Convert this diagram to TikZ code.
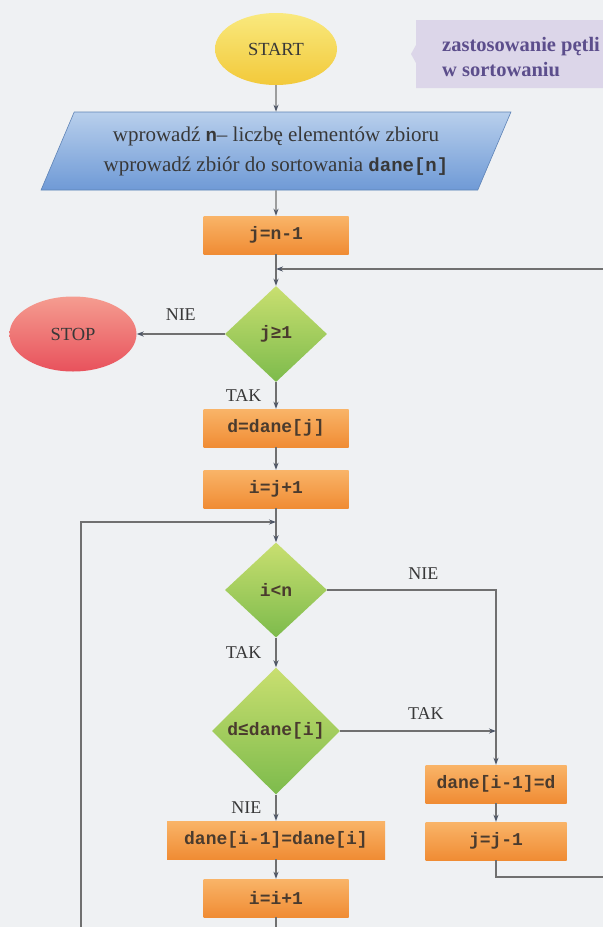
\documentclass[tikz,border=0pt]{standalone}
\usepackage{fontspec}
\setmainfont{Liberation Serif}
\setmonofont{Liberation Mono}
\usepackage{xcolor}
\usetikzlibrary{shapes.geometric,arrows.meta}
\definecolor{bgc}{HTML}{EFF1F3}
\definecolor{lnc}{HTML}{707070}
\definecolor{tipc}{HTML}{4E5666}
\definecolor{txt}{HTML}{383838}
\definecolor{optxt}{HTML}{4A3B2E}
\definecolor{notefill}{HTML}{DCD6E9}
\definecolor{notetxt}{HTML}{5C4E8C}
\definecolor{yeTop}{HTML}{F9E97E}
\definecolor{yeBot}{HTML}{F2C93A}
\definecolor{reTop}{HTML}{F59C90}
\definecolor{reBot}{HTML}{E8525C}
\definecolor{orTop}{HTML}{F9B468}
\definecolor{orBot}{HTML}{F08C34}
\definecolor{grTop}{HTML}{C9DF70}
\definecolor{grBot}{HTML}{7DBB4C}
\definecolor{blTop}{HTML}{B8CFEC}
\definecolor{blBot}{HTML}{6F9AD6}
\newcommand{\kod}[1]{{\fontsize{19bp}{30bp}\ttfamily\bfseries #1}}

\begin{document}
\begin{tikzpicture}[x=1bp, y=-1bp, >={Stealth[length=7bp, width=5bp, color=tipc]},
  flow/.style={draw=lnc, line width=1.2bp},
  lbl/.style={font=\fontsize{18bp}{20bp}\selectfont, text=txt, inner sep=1bp},
  term/.style={ellipse, inner sep=0pt, font=\fontsize{18.5bp}{20bp}\selectfont, text=txt},
  op/.style={rectangle, top color=orTop, bottom color=orBot, minimum width=145bp, minimum height=38bp,
    inner sep=0pt, font=\fontsize{18bp}{20bp}\ttfamily\bfseries, text=optxt},
  cond/.style={diamond, top color=grTop, bottom color=grBot, inner sep=0pt,
    font=\fontsize{18bp}{20bp}\ttfamily\bfseries, text=optxt},
  io/.style={trapezium, trapezium left angle=60, trapezium right angle=120, trapezium stretches=true,
    top color=blTop, bottom color=blBot, draw=blBot!85!black, line width=0.6bp, inner sep=0pt,
    align=center, font=\fontsize{21bp}{30bp}\selectfont, text=txt}]
\useasboundingbox (0,0) rectangle (603,927);
\clip (0,0) rectangle (603,927);
\fill[bgc] (0,0) rectangle (603,927);

\fill[notefill] (416,20) -- (620,20) -- (620,88) -- (416,88) -- (416,63) -- (411,54) -- (416,45) -- cycle;
\node[anchor=west, align=left, inner sep=0pt, text=notetxt, font=\fontsize{20.5bp}{25bp}\selectfont\bfseries] (note) at (442,57) {zastosowanie pętli\\w sortowaniu};

\node[term, top color=yeTop, bottom color=yeBot, minimum width=122bp, minimum height=72bp] (start) at (276,49) {START};
\node[io, minimum width=472bp, minimum height=78bp] (input) at (276,151) {wprowadź \kod{n}– liczbę elementów zbioru\\wprowadź zbiór do sortowania \kod{dane[n]}};
\node[op] (jn1) at (276,235) {j=n-1};
\coordinate (m1) at (276,269);
\node[cond, minimum width=102bp, minimum height=96bp] (c0) at (276,334) {j≥1};
\node[term, top color=reTop, bottom color=reBot, minimum width=127bp, minimum height=75bp] (stop) at (73,334) {STOP};
\node[op] (dj) at (276,428) {d=dane[j]};
\node[op] (ij) at (276,489) {i=j+1};
\coordinate (m2) at (276,522);
\node[cond, minimum width=102bp, minimum height=95bp] (c1) at (276,590) {i<n};
\node[cond, minimum width=128bp, minimum height=127bp] (c2) at (276,731) {d≤dane[i]};
\node[op, minimum width=218bp] (shift) at (276,840) {dane[i-1]=dane[i]};
\node[op] (ii) at (276,898) {i=i+1};
\node[op, minimum width=141bp] (dd) at (496,784) {dane[i-1]=d};
\node[op, minimum width=141bp] (jj) at (496,841) {j=j-1};

\draw[flow,->] (start) -- (input);
\draw[flow,->] (input) -- (jn1);
\draw[flow,->] (jn1) -- (c0);
\draw[flow,->] (c0) -- node[lbl, above=12bp]{NIE} (stop);
\draw[flow,->] (c0) -- node[lbl, left=13bp]{TAK} (dj);
\draw[flow,->] (dj) -- (ij);
\draw[flow,->] (ij) -- (c1);
\draw[flow,->] (c1) -- node[lbl, left=13bp]{TAK} (c2);
\draw[flow,->] (c2) -- node[lbl, left=13bp]{NIE} (shift);
\draw[flow,->] (shift) -- (ii);
\draw[flow,->] (c1.east) -- node[lbl, pos=0.57, above=9bp]{NIE} (c1.east -| dd) -- (dd);
\draw[flow,->] (c2.east) -- node[lbl, pos=0.55, above=10bp]{TAK} (c2.east -| dd);
\draw[flow,->] (dd) -- (jj);
\draw[flow,->] (jj.south) |- (640,877) |- (m1);
\draw[flow,->] (ii.south) |- (81,960) |- (m2);
\end{tikzpicture}
\end{document}
